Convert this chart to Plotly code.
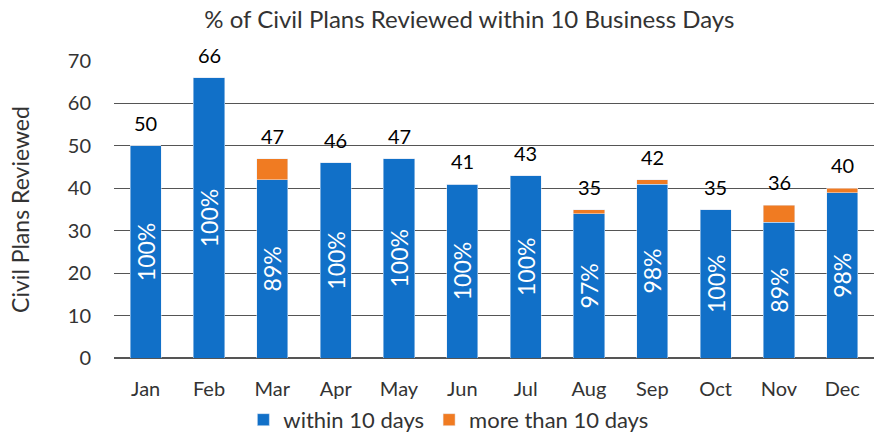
import plotly.graph_objects as go

months = ["Jan", "Feb", "Mar", "Apr", "May", "Jun", "Jul", "Aug", "Sep", "Oct", "Nov", "Dec"]
totals = [50, 66, 47, 46, 47, 41, 43, 35, 42, 35, 36, 40]
within = [50, 66, 42, 46, 47, 41, 43, 34, 41, 35, 32, 39]
pct = ["100%", "100%", "89%", "100%", "100%", "100%", "100%", "97%", "98%", "100%", "89%", "98%"]
over = [t - w for t, w in zip(totals, within)]

FONT = "Lato"
TXT = "#333333"
fig = go.Figure()
fig.add_trace(go.Bar(
    x=months, y=within, name="within 10 days", marker_color="#1170C8",
    text=pct, textposition="inside", textangle=-90, insidetextanchor="middle",
    textfont=dict(color="white", size=23, family=FONT),
))
fig.add_trace(go.Bar(
    x=months, y=over, name="more than 10 days", marker_color="#F07B22",
    textposition="none",
))
annotations = [
    dict(x=m, y=t, text=str(t), showarrow=False, xref="x", yref="y",
         yanchor="bottom", yshift=9, font=dict(size=20, color="black", family=FONT))
    for m, t in zip(months, totals)
]
fig.update_layout(
    barmode="stack", bargap=0.51,
    width=874, height=436,
    margin=dict(l=114, r=0, t=61, b=78, autoexpand=False),
    paper_bgcolor="white", plot_bgcolor="white",
    font=dict(family=FONT, color=TXT, size=20),
    title=dict(text="% of Civil Plans Reviewed within 10 Business Days",
               x=0.537, xref="container", xanchor="center",
               y=0.954, yref="container", yanchor="middle",
               font=dict(size=24, color=TXT, family=FONT)),
    legend=dict(orientation="h", x=0.513, xanchor="center", xref="container",
                y=0.037, yanchor="middle", yref="container",
                font=dict(size=22, family=FONT, color=TXT), traceorder="normal",
                itemwidth=30),
    uniformtext=dict(mode="show", minsize=23),
    annotations=annotations,
    showlegend=True,
)
fig.update_yaxes(range=[0, 70], dtick=10, showgrid=True, gridcolor="#555", gridwidth=1,
                 zeroline=True, zerolinecolor="#555", zerolinewidth=1.5, automargin=False,
                 title=dict(text="Civil Plans Reviewed", font=dict(size=23, color=TXT), standoff=31),
                 ticks="", tickfont=dict(size=20, color=TXT), ticklabelstandoff=22)
fig.update_xaxes(showline=False, ticks="", automargin=False, tickfont=dict(size=20, color=TXT),
                 ticklabelstandoff=17)
fig.write_html("out.html", config={"displayModeBar": False},
               post_script="document.body.style.margin='0';")
